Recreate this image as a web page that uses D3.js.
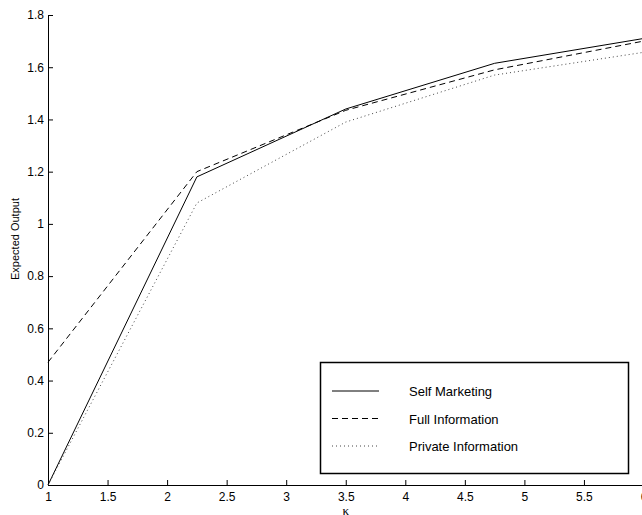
<!DOCTYPE html>
<html>
<head>
<meta charset="utf-8">
<script src="https://cdn.jsdelivr.net/npm/d3@7/dist/d3.min.js"></script>
<style>
  html, body { margin: 0; padding: 0; background: #fff; }
  svg { display: block; font-family: "Liberation Sans", Arial, Helvetica, sans-serif; }
</style>
</head>
<body>
<svg id="chart" width="642" height="515"></svg>
<script>
// kappa values at which the model was evaluated
const kappa = [1, 2.25, 3.5, 4.75, 6];

// expected output under each information regime
const selfMarketing = [0, 1.18, 1.44, 1.615, 1.71];
const fullInformation = [0.47, 1.2, 1.435, 1.59, 1.70];
const privateInformation = [0, 1.08, 1.39, 1.57, 1.657];

const xTicks = [1, 1.5, 2, 2.5, 3, 3.5, 4, 4.5, 5, 5.5, 6];
const yTicks = [0, 0.2, 0.4, 0.6, 0.8, 1, 1.2, 1.4, 1.6, 1.8];

const seriesNames = ["Self Marketing", "Full Information", "Private Information"];
const seriesValues = [selfMarketing, fullInformation, privateInformation];
const seriesDash = [null, "6,4", "1,3"];
const seriesColor = ["#000", "#000", "#444"];

const svg = d3.select("#chart");
const x = d3.scaleLinear().domain([1, 6]).range([48, 643.5]);
const y = d3.scaleLinear().domain([0, 1.8]).range([485, 15]);

// axes with inward ticks
const xAxis = d3.axisBottom(x).tickValues(xTicks).tickSizeInner(-5).tickSizeOuter(0)
  .tickPadding(7).tickFormat(d3.format("~g"));
const yAxis = d3.axisLeft(y).tickValues(yTicks).tickSizeInner(-5).tickSizeOuter(0)
  .tickPadding(4).tickFormat(d3.format("~g"));

const gx = svg.append("g").attr("transform", `translate(0,${y(0)})`).call(xAxis);
const gy = svg.append("g").attr("transform", `translate(${x(1)},0)`).call(yAxis);
[gx, gy].forEach(g => {
  g.selectAll("path.domain").attr("stroke", "#000").attr("stroke-width", 1);
  g.selectAll(".tick line").attr("stroke", "#000");
  g.selectAll(".tick text").attr("fill", "#000").attr("font-size", 12)
    .attr("font-family", "Liberation Sans, Arial, sans-serif");
});

// axis titles
svg.append("text")
  .attr("x", x(3.5)).attr("y", 515)
  .attr("text-anchor", "middle").attr("font-size", 13)
  .attr("font-family", "Liberation Serif, Times New Roman, serif")
  .text("κ");
svg.append("text")
  .attr("transform", "translate(19,239) rotate(-90)")
  .attr("text-anchor", "middle").attr("font-size", 11)
  .text("Expected Output");

// series lines
const line = d3.line().x((d, i) => x(kappa[i])).y(d => y(d));
seriesValues.forEach((vals, i) => {
  svg.append("path")
    .datum(vals)
    .attr("d", line)
    .attr("fill", "none")
    .attr("stroke", seriesColor[i])
    .attr("stroke-width", 1)
    .attr("stroke-dasharray", seriesDash[i]);
});

// legend
const legend = svg.append("g");
legend.append("rect")
  .attr("x", 320.5).attr("y", 362.5).attr("width", 308).attr("height", 111)
  .attr("fill", "#fff").attr("stroke", "#000").attr("stroke-width", 1.5);
seriesNames.forEach((name, i) => {
  const ly = 391 + i * 27.5;
  legend.append("line")
    .attr("x1", 332).attr("x2", 379).attr("y1", ly).attr("y2", ly)
    .attr("stroke", seriesColor[i]).attr("stroke-width", 1)
    .attr("stroke-dasharray", seriesDash[i]);
  legend.append("text")
    .attr("x", 409).attr("y", ly + 5).attr("font-size", 13)
    .text(name);
});
</script>
</body>
</html>
